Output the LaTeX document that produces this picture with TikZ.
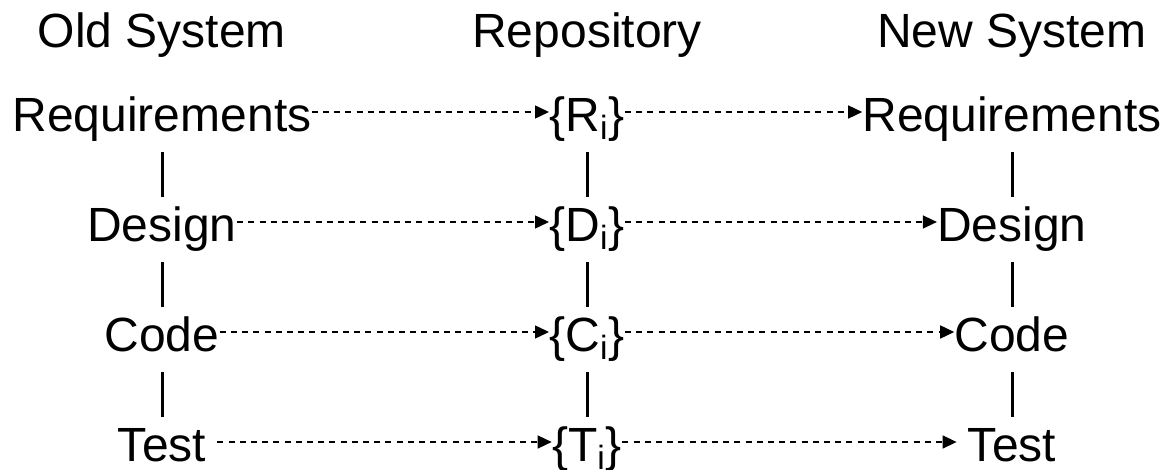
\documentclass[tikz,border=0pt]{standalone}
\usepackage{fontspec}
\setmainfont{Liberation Sans}
\usetikzlibrary{positioning,arrows.meta}

\begin{document}
\begin{tikzpicture}[x=0.5pt,y=-0.5pt,
  font=\fontsize{24}{28}\selectfont,
  on grid, node distance=55pt and 212.5pt,
  stage/.style={inner sep=0pt, text height=20pt, text depth=0pt},
  padded/.style={stage, inner xsep=5.5pt},
  trace/.style={dashed, dash pattern=on 3pt off 2.6pt, line width=0.75pt,
    -{Triangle[length=7pt,width=6.5pt]}},
  link/.style={line width=1.5pt, shorten <=10pt, shorten >=2.5pt}]
\useasboundingbox (0,0) rectangle (1169,470);
% old system column
\node[stage] (oreq) at (162,112) {Requirements};
\node[stage, below=of oreq] (odes) {Design};
\node[stage, below=of odes] (ocod) {Code};
\node[padded, below=of ocod] (otst) {Test};
% repository column
\node[stage, right=of oreq] (rreq) {\{R\textsubscript{i}\}};
\node[stage, below=of rreq] (rdes) {\{D\textsubscript{i}\}};
\node[stage, below=of rdes] (rcod) {\{C\textsubscript{i}\}};
\node[stage, below=of rcod] (rtst) {\{T\textsubscript{i}\}};
% new system column
\node[stage, right=of rreq] (nreq) {Requirements};
\node[stage, below=of nreq] (ndes) {Design};
\node[stage, below=of ndes] (ncod) {Code};
\node[padded, below=of ncod] (ntst) {Test};
% headings
\node[stage, above=42pt of oreq] (hold) {Old System};
\node[stage, above=42pt of rreq] (hrep) {Repository};
\node[stage, above=42pt of nreq] (hnew) {New System};
% phase links
\foreach \a/\b in {oreq/odes, odes/ocod, ocod/otst,
                   rreq/rdes, rdes/rcod, rcod/rtst,
                   nreq/ndes, ndes/ncod, ncod/ntst}
  \draw[link] (\a) -- (\b);
% traces into and out of the repository
\foreach \p in {req, des, cod, tst} {
  \draw[trace] (o\p) -- (r\p);
  \draw[trace] (r\p) -- (n\p);
}
\end{tikzpicture}
\end{document}
